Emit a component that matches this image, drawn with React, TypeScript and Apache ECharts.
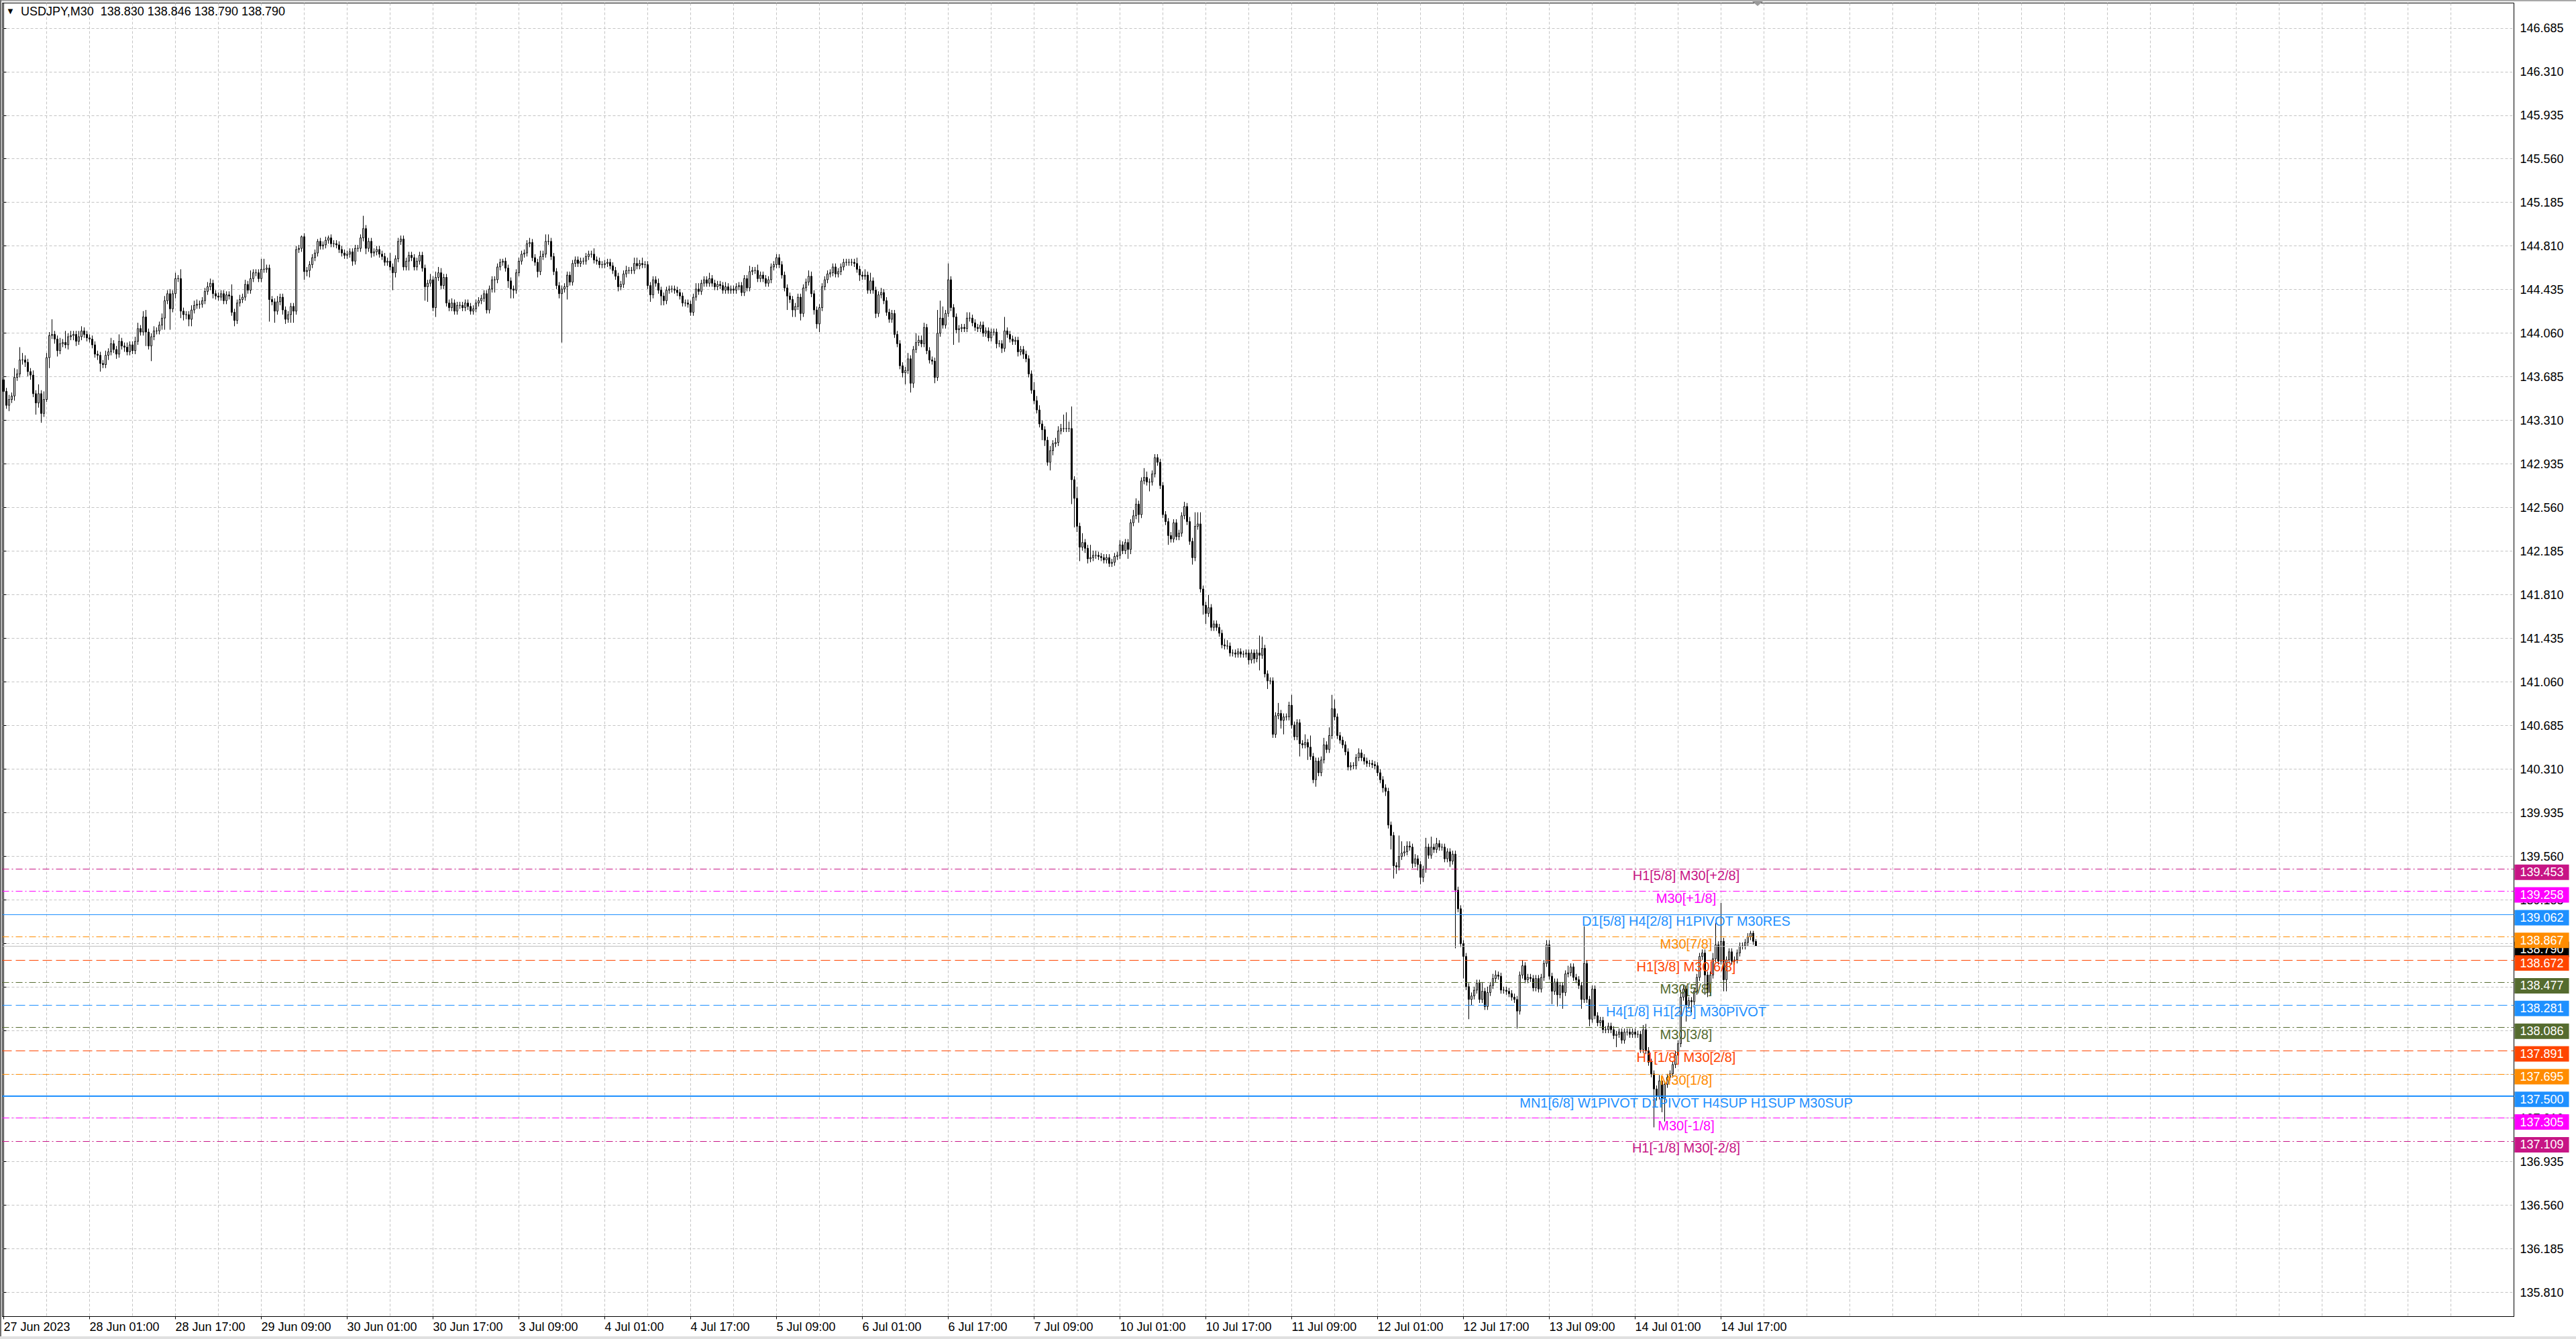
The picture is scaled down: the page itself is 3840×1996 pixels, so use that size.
import React, { useEffect, useRef } from "react";
import * as echarts from "echarts";

// ---------- DATA ----------
const firstOpen = 143.66;

// M30 closes per trading day (27 Jun 09:00 .. 14 Jul 23:30)
const c27Jun = [
  143.56,143.44,143.49,143.52,143.68,143.71,143.83,143.83,143.81,143.73,
  143.70,143.54,143.46,143.54,143.37,143.49,143.85,144.04,144.05,144.01,
  143.91,143.97,143.98,143.96,144.03,144.04,144.05,143.99,144.03,144.08];
const c28Jun = [
  144.05,144.02,144.01,143.96,143.88,143.87,143.80,143.79,143.87,143.90,143.97,143.92,
  143.88,143.99,143.95,143.94,143.90,143.96,143.91,143.99,144.10,144.07,144.20,144.07,
  143.95,144.03,144.08,144.08,144.13,144.19,144.34,144.40,144.27,144.40,144.53,144.53,
  144.25,144.22,144.22,144.18,144.26,144.30,144.31,144.31,144.34,144.42,144.46,144.49];
const c29Jun = [
  144.40,144.38,144.37,144.40,144.34,144.39,144.38,144.24,144.17,144.32,144.35,144.37,
  144.48,144.43,144.53,144.58,144.58,144.53,144.61,144.61,144.62,144.35,144.33,144.25,
  144.33,144.37,144.26,144.18,144.22,144.29,144.25,144.78,144.79,144.89,144.59,144.60,
  144.65,144.71,144.75,144.85,144.81,144.82,144.86,144.88,144.83,144.83,144.82,144.78];
const c30Jun = [
  144.75,144.73,144.74,144.76,144.68,144.79,144.79,144.88,144.96,144.79,144.85,144.75,
  144.76,144.78,144.74,144.72,144.67,144.68,144.63,144.58,144.70,144.85,144.87,144.63,
  144.68,144.73,144.71,144.63,144.68,144.73,144.62,144.46,144.49,144.52,144.28,144.54,
  144.58,144.47,144.54,144.32,144.28,144.32,144.25,144.30,144.30,144.28,144.32,144.29];
const c03Jul = [
  144.25,144.27,144.32,144.34,144.36,144.40,144.26,144.44,144.52,144.52,144.63,144.67,
  144.68,144.62,144.51,144.44,144.43,144.58,144.68,144.74,144.75,144.83,144.84,144.71,
  144.67,144.59,144.72,144.74,144.85,144.85,144.72,144.59,144.47,144.40,144.44,144.46,
  144.56,144.50,144.66,144.69,144.66,144.68,144.68,144.72,144.74,144.74,144.69,144.68];
const c04Jul = [
  144.65,144.65,144.66,144.67,144.64,144.60,144.55,144.46,144.48,144.57,144.60,144.60,
  144.60,144.66,144.64,144.66,144.65,144.65,144.47,144.39,144.52,144.49,144.43,144.38,
  144.34,144.43,144.44,144.44,144.43,144.41,144.38,144.32,144.32,144.31,144.24,144.37,
  144.44,144.42,144.49,144.52,144.49,144.53,144.49,144.46,144.48,144.47,144.43,144.46];
const c05Jul = [
  144.43,144.44,144.43,144.46,144.47,144.41,144.53,144.45,144.59,144.60,144.60,144.53,
  144.56,144.53,144.49,144.52,144.63,144.65,144.71,144.65,144.56,144.45,144.38,144.35,
  144.26,144.29,144.37,144.23,144.45,144.50,144.55,144.40,144.26,144.14,144.28,144.46,
  144.52,144.57,144.58,144.63,144.57,144.59,144.63,144.67,144.67,144.67,144.67,144.66];
const c06Jul = [
  144.61,144.56,144.55,144.56,144.43,144.51,144.43,144.23,144.39,144.41,144.34,144.24,
  144.18,144.23,144.05,143.97,143.78,143.72,143.74,143.84,143.63,143.92,143.98,144.00,
  143.97,144.11,143.91,143.83,143.82,143.68,144.06,144.19,144.13,144.23,144.52,144.28,
  144.20,144.09,144.10,144.11,144.10,144.19,144.19,144.15,144.11,144.10,144.13,144.06];
const c07Jul = [
  144.08,144.02,144.07,144.07,143.97,143.97,143.93,144.08,144.05,144.01,143.99,144.00,
  143.90,143.92,143.88,143.84,143.71,143.57,143.48,143.40,143.28,143.23,143.14,142.95,
  143.05,143.11,143.12,143.22,143.24,143.24,143.24,143.24,142.80,142.64,142.40,142.22,
  142.26,142.21,142.12,142.13,142.15,142.15,142.14,142.13,142.11,142.13,142.08,142.09];
const c10Jul = [
  142.14,142.15,142.24,142.19,142.26,142.20,142.43,142.49,142.59,142.50,142.79,142.82,
  142.78,142.78,142.85,142.99,142.95,142.75,142.50,142.44,142.32,142.29,142.43,142.31,
  142.34,142.49,142.57,142.44,142.27,142.13,142.40,142.42,141.86,141.72,141.65,141.70,
  141.53,141.56,141.53,141.48,141.38,141.37,141.37,141.31,141.31,141.30,141.32,141.30];
const c11Jul = [
  141.30,141.31,141.25,141.31,141.26,141.31,141.29,141.35,141.13,141.07,141.07,140.61,
  140.77,140.79,140.73,140.76,140.76,140.86,140.69,140.59,140.71,140.53,140.52,140.54,
  140.50,140.42,140.22,140.38,140.28,140.39,140.52,140.48,140.60,140.83,140.76,140.60,
  140.56,140.52,140.46,140.33,140.34,140.34,140.41,140.45,140.41,140.38,140.36,140.36];
const c12Jul = [
  140.35,140.34,140.28,140.22,140.15,140.12,139.83,139.74,139.48,139.47,139.56,139.59,
  139.60,139.65,139.64,139.50,139.54,139.49,139.38,139.45,139.64,139.57,139.64,139.62,
  139.67,139.64,139.64,139.54,139.60,139.52,139.58,139.27,139.11,138.81,138.70,138.44,
  138.33,138.36,138.41,138.47,138.33,138.40,138.27,138.39,138.45,138.51,138.54,138.53];
const c13Jul = [
  138.41,138.41,138.40,138.38,138.35,138.33,138.23,138.54,138.62,138.50,138.52,138.51,
  138.43,138.51,138.42,138.52,138.64,138.80,138.53,138.40,138.48,138.37,138.45,138.39,
  138.55,138.56,138.61,138.52,138.50,138.45,138.33,138.64,138.33,138.16,138.42,138.19,
  138.13,138.15,138.07,138.07,138.10,138.07,138.02,138.03,138.05,137.98,138.05,138.05];
const c14Jul = [
  138.03,138.05,138.03,138.03,137.90,138.07,137.89,137.79,137.69,137.56,137.50,137.63,
  137.48,137.60,137.66,137.69,137.77,137.85,137.95,138.35,138.42,138.28,138.32,138.31,
  138.40,138.52,138.70,138.73,138.54,138.39,138.54,138.68,138.80,138.66,138.83,138.50,
  138.67,138.74,138.66,138.67,138.73,138.79,138.79,138.82,138.87,138.90,138.83,138.79];

// upper / lower wick lengths in pips (0.01) beyond the candle body
const up27Jun = [5,3,4,3,8,4,11,6,4,3,3,4, 3,8,3,7,4,3,13,3,3,5,3,10, 3,4,3,3,5,4];
const dn27Jun = [4,3,5,3,4,3,3,4,4,4,4,3, 10,4,8,3,2,9,3,4,5,3,3,3, 4,3,4,4,3,3];
const up28Jun = [3,3,3,3,3,3,3,3,4,3,5,3, 3,6,3,3,4,3,3,4,5,3,5,6, 3,3,4,3,3,4,4,3,4,3,5,3, 8,3,3,3,4,4,4,3,3,3,4,4];
const dn28Jun = [3,3,3,3,3,4,7,3,3,4,3,3, 4,3,3,4,3,3,3,3,3,3,3,12, 3,13,3,3,3,4,10,3,18,3,4,3, 6,5,4,6,6,3,3,4,3,3,3,3];
const up29Jun = [3,3,3,3,3,3,3,10,3,3,4,3, 4,3,7,3,3,3,9,9,3,3,3,3, 5,3,3,3,3,3,3,3,3,1,3,3, 3,3,3,2,3,3,3,2,3,3,3,3];
const dn29Jun = [4,3,3,3,3,3,3,3,5,3,3,3, 3,3,3,3,3,3,3,3,3,19,3,10, 3,3,4,4,3,7,10,3,3,3,7,4, 6,3,3,3,3,3,3,3,3,3,3,3];
const up30Jun = [3,3,3,3,3,3,3,3,11,3,3,3, 3,3,3,3,3,3,7,3,3,3,3,3, 3,3,3,3,3,3,3,3,3,5,3,5, 5,4,3,3,3,4,3,3,3,3,3,3];
const dn30Jun = [3,3,3,3,4,3,3,3,3,5,3,4, 3,3,3,3,3,3,3,15,4,3,3,3, 3,8,3,3,3,3,3,12,13,3,3,8, 3,3,3,3,3,3,3,3,3,3,3,3];
const up03Jul = [3,3,3,3,3,3,3,3,3,3,3,3, 2,3,3,3,3,3,3,3,3,3,4,3, 3,3,5,3,6,6,3,3,3,3,3,3, 3,3,3,3,3,3,3,3,3,3,5,3];
const dn03Jul = [3,3,3,3,3,3,3,3,3,11,3,3, 3,3,6,8,7,3,3,3,3,3,3,3, 3,5,3,3,3,3,3,3,3,4,42,3, 11,3,3,3,3,3,3,3,3,3,3,3];
const up04Jul = [3,3,3,3,3,3,3,3,3,3,4,3, 3,5,5,3,5,3,3,3,3,3,4,3, 3,3,3,3,3,3,3,3,3,3,3,3, 5,5,3,3,3,5,3,3,3,3,3,4];
const dn04Jul = [3,3,3,3,3,3,3,4,3,3,3,3, 3,3,3,3,3,3,3,6,3,3,3,8, 4,3,3,3,3,3,3,3,3,3,3,3, 3,3,3,3,3,3,3,3,3,3,3,3];
const up05Jul = [3,3,3,3,3,3,3,3,5,3,3,5, 3,3,3,3,3,3,3,3,3,3,3,3, 3,3,3,3,3,3,5,4,3,3,3,3, 3,3,3,3,3,3,3,3,3,3,3,3];
const dn05Jul = [3,3,3,3,3,3,3,3,3,3,3,3, 3,3,3,3,3,3,3,3,3,3,12,3, 6,6,3,6,3,3,3,3,4,4,7,3, 3,3,3,3,3,3,3,3,3,3,3,3];
const up06Jul = [5,3,3,5,3,7,3,3,3,4,3,3, 3,3,3,3,3,3,3,5,3,3,8,4, 4,4,3,3,3,3,20,15,10,3,14,3, 3,3,3,3,3,5,5,3,3,3,3,3];
const dn06Jul = [3,5,3,3,3,3,3,4,3,3,3,3, 3,3,3,3,3,4,10,3,8,4,3,3, 3,3,3,3,3,5,3,3,3,3,3,3, 24,3,11,3,3,3,3,3,3,3,3,3];
const up07Jul = [3,3,3,3,3,3,3,12,3,3,3,3, 3,3,3,3,3,3,7,4,4,3,3,3, 4,3,4,4,4,12,14,6,19,3,10,3, 8,3,3,11,4,4,3,3,3,3,3,3];
const dn07Jul = [3,3,3,3,4,3,4,3,3,3,3,3, 4,3,4,3,3,3,3,3,3,9,5,3, 7,4,3,3,3,3,3,3,21,25,5,12, 3,4,4,3,3,3,3,3,3,3,3,3];
const up10Jul = [3,3,4,3,3,3,3,5,5,3,3,8, 5,3,3,3,3,3,3,3,3,3,3,3, 3,3,4,3,4,3,12,10,10,3,3,11, 3,3,3,3,3,5,5,3,3,3,3,3];
const dn10Jul = [3,3,3,3,3,8,4,3,3,7,3,3, 3,8,3,3,3,3,3,3,8,3,3,3, 3,3,3,3,3,6,3,3,3,8,9,3, 3,3,3,3,3,3,3,3,3,3,3,3];
const up11Jul = [3,3,3,3,3,3,15,10,3,3,3,3, 3,9,3,3,3,3,9,3,3,3,3,7, 3,10,3,3,3,3,6,3,7,12,8,3, 3,3,3,3,3,3,3,4,3,3,3,3];
const dn11Jul = [3,3,4,3,4,3,13,3,3,7,3,3, 3,3,7,12,3,3,3,3,3,11,3,3, 11,3,3,6,3,3,3,3,3,3,3,3, 3,3,3,3,3,3,3,3,3,3,3,3];
const up12Jul = [3,3,3,3,3,3,3,3,3,3,18,10, 5,4,4,3,4,3,3,3,8,3,9,3, 5,3,3,3,3,3,3,3,3,3,3,3, 3,3,3,3,3,8,3,5,3,4,4,3];
const dn12Jul = [3,3,3,3,4,4,3,12,11,6,3,3, 3,3,3,4,3,5,6,4,3,3,3,3, 3,3,3,3,3,5,3,50,3,3,19,3, 17,5,3,3,3,3,3,3,3,3,3,3];
const up13Jul = [3,3,3,3,3,3,3,3,5,3,3,3, 3,3,3,3,3,4,4,3,3,3,3,3, 3,6,3,3,3,3,3,32,3,3,3,3, 3,3,3,3,3,3,3,3,3,3,3,3];
const dn13Jul = [3,3,3,3,3,3,15,3,3,3,3,3, 3,3,3,3,3,3,3,11,3,10,3,14, 3,3,3,3,3,3,8,3,3,6,3,3, 3,3,3,3,3,3,3,10,3,3,3,3];
const up14Jul = [3,3,3,3,3,4,5,3,3,3,3,5, 3,3,3,3,3,4,3,6,3,3,3,3, 3,3,3,3,3,3,3,5,19,3,33,3, 3,3,3,3,3,3,3,3,3,2,2,2];
const dn14Jul = [3,3,3,3,3,3,3,3,3,33,4,3, 12,20,3,3,3,3,3,3,3,14,3,9, 3,3,3,3,17,4,3,3,3,3,3,10, 10,3,3,3,3,3,3,3,3,3,3,0];

const xTickLabels = [
  "27 Jun 2023","28 Jun 01:00","28 Jun 17:00","29 Jun 09:00","30 Jun 01:00","30 Jun 17:00",
  "3 Jul 09:00","4 Jul 01:00","4 Jul 17:00","5 Jul 09:00","6 Jul 01:00","6 Jul 17:00",
  "7 Jul 09:00","10 Jul 01:00","10 Jul 17:00","11 Jul 09:00","12 Jul 01:00","12 Jul 17:00",
  "13 Jul 09:00","14 Jul 01:00","14 Jul 17:00"];

const yTicks = [
  135.810,136.185,136.560,136.935,137.310,137.685,138.060,138.435,138.810,139.185,
  139.560,139.935,140.310,140.685,141.060,141.435,141.810,142.185,142.560,142.935,
  143.310,143.685,144.060,144.435,144.810,145.185,145.560,145.935,146.310,146.685];

const levelPrices = [139.453,139.258,139.062,138.867,138.672,138.477,138.281,138.086,137.891,137.695,137.500,137.305,137.109];
const levelNames = [
  "H1[5/8] M30[+2/8]","M30[+1/8]","D1[5/8] H4[2/8] H1PIVOT M30RES","M30[7/8]",
  "H1[3/8] M30[6/8]","M30[5/8]","H4[1/8] H1[2/8] M30PIVOT","M30[3/8]",
  "H1[1/8] M30[2/8]","M30[1/8]","MN1[6/8] W1PIVOT D1PIVOT H4SUP H1SUP M30SUP",
  "M30[-1/8]","H1[-1/8] M30[-2/8]"];
const bidPrice = 138.790;
const headerText = "USDJPY,M30  138.830 138.846 138.790 138.790";

// ---------- STYLES ----------
const levelColors = ["#C71585","#FF00FF","#1E90FF","#FF8C00","#FF4500","#556B2F","#1E90FF","#556B2F","#FF4500","#FF8C00","#1E90FF","#FF00FF","#C71585"];
const levelKinds = ["dashdot","dashdot","solid","dashdot","dash","dashdot","dash","dashdot","dash","dashdot","solid","dashdot","dashdot"];
const levelWidths = [1,1,1,1,1,1,1,1,1,1,2,1,1];
const dashTypes: Record<string, any> = { solid: "solid", dash: [14, 6], dashdot: [10, 4, 2, 4] };
const FONT = "'Liberation Sans', Arial, sans-serif";
const SLOTS = 936;
const LABEL_EVERY = 32;
const GRID_EVERY = 16;
const TEXT_BAR = 627;

function buildOption() {
  const closes = [...c27Jun, ...c28Jun, ...c29Jun, ...c30Jun, ...c03Jul, ...c04Jul, ...c05Jul,
    ...c06Jul, ...c07Jul, ...c10Jul, ...c11Jul, ...c12Jul, ...c13Jul, ...c14Jul];
  const ups = [...up27Jun, ...up28Jun, ...up29Jun, ...up30Jun, ...up03Jul, ...up04Jul, ...up05Jul,
    ...up06Jul, ...up07Jul, ...up10Jul, ...up11Jul, ...up12Jul, ...up13Jul, ...up14Jul];
  const dns = [...dn27Jun, ...dn28Jun, ...dn29Jun, ...dn30Jun, ...dn03Jul, ...dn04Jul, ...dn05Jul,
    ...dn06Jul, ...dn07Jul, ...dn10Jul, ...dn11Jul, ...dn12Jul, ...dn13Jul, ...dn14Jul];
  const nBars = closes.length;
  const candles = closes.map((c, i) => {
    const o = i === 0 ? firstOpen : closes[i - 1];
    const hi = +(Math.max(o, c) + (ups[i] ?? 3) / 100).toFixed(3);
    const lo = +(Math.min(o, c) - (dns[i] ?? 3) / 100).toFixed(3);
    return [o, c, lo, hi];
  });
  const categories = Array.from({ length: SLOTS }, (_, i) => String(i));
  const gridTicks = Array.from({ length: SLOTS / GRID_EVERY }, (_, k) => k * GRID_EVERY);
  const showLabel = (idx: number) => idx % LABEL_EVERY === 0 && idx < nBars && idx / LABEL_EVERY < xTickLabels.length;

  const markLineData: any[] = [
    { yAxis: bidPrice, lineStyle: { color: "#C0C0C0", type: "solid", width: 1 } },
    ...levelPrices.map((p, k) => ({
      yAxis: p,
      lineStyle: { color: levelColors[k], type: dashTypes[levelKinds[k]], width: levelWidths[k] },
    })),
  ];

  const tagLabel = (text: string, bg: string) => ({
    show: true,
    position: "right",
    distance: 3,
    offset: [0, 5],
    formatter: text,
    color: "#ffffff",
    backgroundColor: bg,
    padding: [3, 8, 2, 8],
    fontSize: 18,
    fontFamily: FONT,
  });

  const markPointData: any[] = [
    ...levelNames.map((n, k) => ({
      coord: [TEXT_BAR, levelPrices[k]],
      label: { show: true, position: "bottom", distance: 0, formatter: n, color: levelColors[k], fontSize: 20, fontFamily: FONT },
    })),
    { coord: [SLOTS - 1, bidPrice], label: tagLabel(bidPrice.toFixed(3), "#000000") },
    ...levelPrices.map((p, k) => ({
      coord: [SLOTS - 1, p],
      label: tagLabel(p.toFixed(3), levelColors[k]),
    })),
  ];

  return {
    animation: false,
    backgroundColor: "#ffffff",
    textStyle: { fontFamily: FONT },
    title: [
      { text: "▼", left: 9, top: 10, padding: 0, textStyle: { fontSize: 13, color: "#000", fontWeight: "normal", fontFamily: FONT } },
      { text: headerText, left: 31, top: 8, padding: 0, textStyle: { fontSize: 18, color: "#000", fontWeight: "normal", fontFamily: FONT } },
    ],
    grid: { left: 3.5, right: 92.5, top: 4.5, bottom: 33.5, show: true, borderColor: "#000", borderWidth: 1, backgroundColor: "#fff" },
    xAxis: [
      {
        type: "category",
        data: categories,
        boundaryGap: true,
        axisLine: { show: true, lineStyle: { color: "#000", width: 1 } },
        axisTick: { show: true, interval: (i: number) => showLabel(i), alignWithLabel: true, length: 4, lineStyle: { color: "#000" } },
        axisLabel: {
          interval: (i: number) => showLabel(i),
          formatter: (_v: string, i: number) => xTickLabels[i / LABEL_EVERY] ?? "",
          align: "left",
          margin: 6,
          fontSize: 18,
          color: "#000",
          fontFamily: FONT,
        },
        splitLine: { show: false },
      },
      {
        type: "value",
        min: -0.5,
        max: SLOTS - 0.5,
        position: "bottom",
        axisLine: { show: false },
        axisTick: { show: false, customValues: gridTicks },
        axisLabel: { show: false },
        splitLine: { show: true, lineStyle: { color: "#C4C4C4", type: [4, 3], width: 1 } },
      },
    ],
    yAxis: [
      {
        type: "value",
        position: "right",
        min: 135.603,
        max: 146.900,
        scale: true,
        axisLine: { show: true, lineStyle: { color: "#000", width: 1 } },
        axisTick: { show: true, length: 4, customValues: yTicks, lineStyle: { color: "#000" } },
        axisLabel: {
          customValues: yTicks,
          formatter: (v: number) => v.toFixed(3),
          margin: 9,
          fontSize: 18,
          color: "#000",
          fontFamily: FONT,
        },
        splitLine: { show: true, lineStyle: { color: "#C4C4C4", type: [4, 3], width: 1 } },
      },
    ],
    graphic: [
      { type: "rect", shape: { x: 0, y: 0, width: 3840, height: 2 }, style: { fill: "#A8A8A8" }, silent: true },
      { type: "rect", shape: { x: 0, y: 0, width: 2, height: 1996 }, style: { fill: "#707070" }, silent: true },
      { type: "rect", shape: { x: 0, y: 1992, width: 3840, height: 4 }, style: { fill: "#E0E0E0" }, silent: true },
      { type: "polygon", shape: { points: [[2612, 2], [2628, 2], [2620, 9]] }, style: { fill: "#9A9A9A" }, silent: true },
    ],
    series: [
      {
        type: "candlestick",
        xAxisIndex: 0,
        yAxisIndex: 0,
        data: candles,
        large: false,
        barWidth: 2,
        itemStyle: {
          color: "#ffffff",
          color0: "#000000",
          borderColor: "#000000",
          borderColor0: "#000000",
          borderWidth: 1,
        },
        markLine: {
          silent: true,
          symbol: ["none", "none"],
          animation: false,
          label: { show: false },
          data: markLineData,
        },
        markPoint: {
          silent: true,
          symbol: "circle",
          symbolSize: 0,
          animation: false,
          data: markPointData,
        },
      },
    ],
  };
}

export default function App() {
  const ref = useRef<HTMLDivElement>(null);
  useEffect(() => {
    if (!ref.current) return;
    const chart = echarts.init(ref.current, null, { renderer: "svg" });
    chart.setOption(buildOption() as any);
    return () => chart.dispose();
  }, []);
  return (
    <div
      ref={ref}
      style={{ position: "fixed", left: 0, top: 0, width: "3840px", height: "1996px", background: "#fff" }}
    />
  );
}
